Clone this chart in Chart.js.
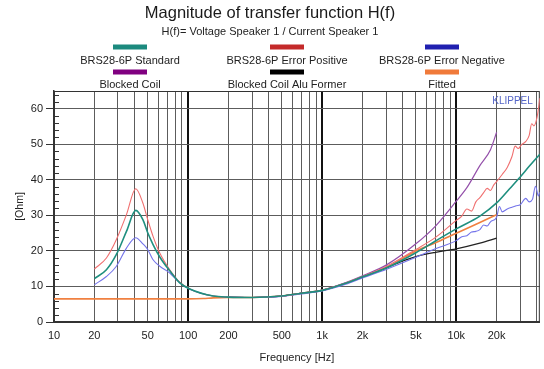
<!DOCTYPE html>
<html>
<head>
<meta charset="utf-8">
<script src="https://cdn.jsdelivr.net/npm/chart.js@4"></script>
<style>
  html, body { margin: 0; padding: 0; background: #fff; }
</style>
</head>
<body>
<canvas id="hf" width="544" height="369"></canvas>
<script>
// series names, in legend order
const seriesNames = ['BRS28-6P Standard', 'BRS28-6P Error Positive', 'BRS28-6P Error Negative',
                     'Blocked Coil', 'Blocked Coil Alu Former', 'Fitted'];

// BRS28-6P Standard
const freqStd = [20, 24.6, 29.2, 34.7, 40.7, 46, 50, 54.8, 61.5, 73, 86.7, 103, 154, 200, 300,
                 500, 700, 1000, 1500, 2000, 3000, 5000, 7000, 10000, 15000, 20000, 25000, 30000, 35000, 42000];
const valStd = [12.2, 14.7, 19.0, 25.5, 31.4, 28.8, 25.1, 21.8, 18.3, 14.4, 11.0, 9.3, 7.3, 7.0, 6.9,
                7.3, 8.1, 8.9, 10.9, 12.7, 15.2, 19.5, 22.8, 26.2, 29.8, 33.5, 37.5, 40.8, 43.8, 47.2];

// BRS28-6P Error Positive
const freqPos = [20, 24.6, 29.2, 34.7, 40.7, 46, 50, 54.8, 61.5, 73, 86.7, 103, 154, 200, 300,
                 500, 700, 1000, 1500, 2000, 3000, 5000, 7000, 10000,
                 11000, 12000, 13000, 14000, 15000, 16000, 17000, 18000, 19000, 20000,
                 22000, 24000, 26000, 27500, 29000, 30500, 33000, 35000, 36500, 38000, 40000, 41000, 42000];
const valPos = [14.9, 18.0, 23.2, 30.2, 37.5, 33.5, 28.8, 24.1, 19.4, 14.7, 11.2, 9.3, 7.3, 7.0, 6.9,
                7.3, 8.1, 9.0, 11.0, 12.8, 15.6, 20.4, 23.8, 28.6,
                29.8, 31.8, 31.2, 33.8, 35.0, 36.4, 37.6, 37.0, 38.5, 39.5,
                41.5, 43.5, 46.5, 49.5, 48.8, 49.8, 50.8, 52.5, 55.8, 55.2, 57.5, 60.0, 63.0];

// BRS28-6P Error Negative
const freqNeg = [20, 24.6, 29.2, 34.7, 40.7, 46, 50, 54.8, 61.5, 73, 86.7, 103, 154, 200, 300,
                 500, 700, 1000, 1500, 2000, 3000, 5000, 7000, 10000,
                 11000, 12000, 13000, 14000, 15000, 16000, 17000, 18000, 20000, 21000,
                 22000, 24000, 26000, 28000, 30000, 33000, 35000, 37000, 39000, 41000, 42000];
const valNeg = [10.5, 12.8, 15.7, 20.8, 23.7, 22.0, 20.4, 17.5, 15.7, 13.8, 11.0, 9.2, 7.3, 7.0, 6.9,
                7.2, 7.9, 8.7, 10.6, 12.4, 14.8, 18.2, 20.6, 22.9,
                24.0, 24.3, 25.3, 25.5, 26.0, 27.3, 27.0, 28.2, 29.5, 32.5,
                31.0, 31.8, 32.3, 32.7, 33.0, 34.8, 33.8, 34.5, 38.2, 35.5, 36.5];

// Blocked Coil
const freqBlocked = [200, 300, 500, 700, 1000, 1500, 2000, 3000, 5000, 7000, 10000, 12000, 15000, 18000, 20000];
const valBlocked = [7.0, 6.9, 7.3, 8.1, 9.0, 11.1, 13.0, 16.0, 22.0, 27.0, 34.0, 37.8, 44.0, 48.5, 53.4];

// Blocked Coil Alu Former
const freqAlu = [200, 300, 500, 700, 1000, 1500, 2000, 3000, 4000, 5000, 7000, 10000, 15000, 20000];
const valAlu = [7.0, 6.9, 7.3, 8.1, 8.9, 10.9, 12.6, 15.2, 17.2, 18.4, 19.6, 20.6, 22.2, 23.6];

// Fitted
const freqFit = [10, 100, 130, 154, 200, 300, 500, 700, 1000, 1500, 2000, 3000, 5000, 7000, 10000, 15000, 20000];
const valFit = [6.5, 6.5, 6.6, 6.8, 6.9, 6.9, 7.3, 8.1, 8.9, 10.9, 12.7, 15.3, 20.0, 22.3, 25.0, 28.0, 30.2];

// axis ticks
const freqTickValues = [10, 20, 50, 100, 200, 500, 1000, 2000, 5000, 10000, 20000];
const freqTickText = ['10', '20', '50', '100', '200', '500', '1k', '2k', '5k', '10k', '20k'];
const ohmTicks = [0, 10, 20, 30, 40, 50, 60];

const lineColors = ['#1f8f7f', '#f07070', '#7474ea', '#9450aa', '#222222', '#f08040'];
const swatchColors = ['#1c8a7e', '#c42a2a', '#2020b0', '#800080', '#000000', '#f07a3a'];
const lineWidths = [1.6, 1.1, 1.1, 1.2, 1.2, 1.6];

// grid lines at every 1..9 multiple of each decade
const gridFreqs = [];
[10, 100, 1000, 10000].forEach(d => {
    for (let k = 1; k <= 9; k++) if (d * k <= 42000) gridFreqs.push(d * k);
});
const majorFreqs = [100, 1000, 10000];

function pts(xs, ys) {
    return xs.map((x, i) => ({ x: x, y: ys[i] }));
}

const seriesData = [
    pts(freqStd, valStd), pts(freqPos, valPos), pts(freqNeg, valNeg),
    pts(freqBlocked, valBlocked), pts(freqAlu, valAlu), pts(freqFit, valFit)
];

const FONT = 'Arial, "Liberation Sans", sans-serif';

// frame, minor ticks, KLIPPEL mark and the two-row legend
const extras = {
    id: 'extras',
    beforeDatasetsDraw(chart) {
        const { ctx, chartArea: a } = chart;
        const y = chart.scales.y;
        ctx.save();
        ctx.strokeStyle = '#333';
        ctx.lineWidth = 1;
        ctx.strokeRect(a.left + 0.5, a.top + 0.5, a.right - a.left - 1, a.bottom - a.top - 1);
        for (let v = 2; v < 65; v += 2) {
            if (v % 10 === 0) continue;
            const py = Math.round(y.getPixelForValue(v)) + 0.5;
            ctx.beginPath();
            ctx.moveTo(a.left, py);
            ctx.lineTo(a.left + 5, py);
            ctx.stroke();
        }
        ctx.restore();
    },
    afterDraw(chart) {
        const { ctx, chartArea: a } = chart;
        ctx.save();
        ctx.fillStyle = '#5566c8';
        ctx.font = '10px ' + FONT;
        ctx.textAlign = 'right';
        ctx.textBaseline = 'middle';
        ctx.fillText('KLIPPEL', a.right - 7, a.top + 10);

        const cols = [130, 287, 442];
        const swatchY = [47, 72];
        const labelY = [61, 85];
        ctx.font = '11px ' + FONT;
        ctx.textAlign = 'center';
        seriesNames.forEach((name, i) => {
            const c = i % 3, r = Math.floor(i / 3);
            ctx.fillStyle = swatchColors[i];
            ctx.fillRect(cols[c] - 17, swatchY[r] - 2.5, 34, 5);
            ctx.fillStyle = '#222';
            ctx.fillText(name, cols[c], labelY[r]);
        });
        ctx.restore();
    }
};

new Chart(document.getElementById('hf'), {
    type: 'line',
    data: {
        datasets: seriesNames.map((name, i) => ({
            label: name,
            data: seriesData[i],
            borderColor: lineColors[i],
            backgroundColor: lineColors[i],
            borderWidth: lineWidths[i],
            pointRadius: 0,
            fill: false,
            cubicInterpolationMode: 'monotone'
        }))
    },
    options: {
        responsive: false,
        animation: false,
        layout: { padding: { left: 0, right: 4, top: 0, bottom: 0 } },
        plugins: {
            legend: { display: false },
            tooltip: { enabled: false },
            title: {
                display: true,
                text: 'Magnitude of transfer function H(f)',
                color: '#1a1a1a',
                font: { family: FONT, size: 16.5, weight: 'normal' },
                padding: { top: 4, bottom: 2 }
            },
            subtitle: {
                display: true,
                text: 'H(f)= Voltage Speaker 1 / Current Speaker 1',
                color: '#222',
                font: { family: FONT, size: 11 },
                padding: { top: 0, bottom: 52 }
            }
        },
        scales: {
            x: {
                type: 'logarithmic',
                min: 10,
                max: 42000,
                afterBuildTicks(scale) {
                    scale.ticks = gridFreqs.map(v => ({ value: v }));
                },
                afterFit(scale) { scale.height = 47; },
                ticks: {
                    autoSkip: false,
                    maxRotation: 0,
                    padding: 7,
                    color: '#222',
                    font: { family: FONT, size: 11 },
                    callback(v) {
                        const i = freqTickValues.indexOf(v);
                        return i >= 0 ? freqTickText[i] : '';
                    }
                },
                grid: {
                    drawTicks: false,
                    color: c => majorFreqs.includes(c.tick && c.tick.value) ? '#111' : '#5c5c5c',
                    lineWidth: c => majorFreqs.includes(c.tick && c.tick.value) ? 2 : 1
                },
                border: { color: '#333', width: 2 },
                title: {
                    display: true,
                    text: 'Frequency [Hz]',
                    color: '#222',
                    font: { family: FONT, size: 11 },
                    padding: { top: 0, bottom: 4 }
                }
            },
            y: {
                min: 0,
                max: 65,
                afterBuildTicks(scale) {
                    scale.ticks = ohmTicks.map(v => ({ value: v }));
                },
                afterFit(scale) { scale.width = 54; },
                ticks: {
                    padding: 3,
                    color: '#222',
                    font: { family: FONT, size: 11 }
                },
                grid: { color: '#5c5c5c', lineWidth: 1, tickLength: 8, tickColor: '#333' },
                border: { color: '#333', width: 1.5 },
                title: {
                    display: true,
                    text: '[Ohm]',
                    color: '#222',
                    font: { family: FONT, size: 10.5 },
                    padding: { top: 14, bottom: 0 }
                }
            }
        }
    },
    plugins: [extras]
});
</script>
</body>
</html>
